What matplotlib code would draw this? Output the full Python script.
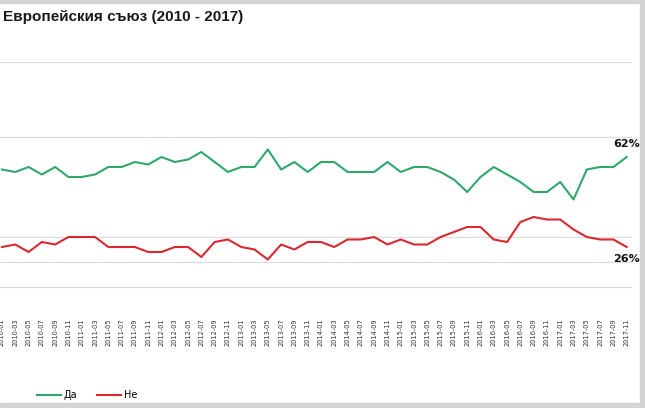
import matplotlib
matplotlib.use("Agg")
import matplotlib.pyplot as plt
from matplotlib.patches import Rectangle

# bi-monthly poll, 2010 - 2017
labels = [f"{y}-{m:02d}" for y in range(2010, 2018) for m in range(1, 13, 2)]

yes = [57, 56, 58, 55, 58, 54, 54, 55, 58, 58, 60, 59, 62, 60, 61, 64,
       60, 56, 58, 58, 65, 57, 60, 56, 60, 60, 56, 56, 56, 60, 56, 58,
       58, 56, 53, 48, 54, 58, 55, 52, 48, 48, 52, 45, 57, 58, 58, 62]
no = [26, 27, 24, 28, 27, 30, 30, 30, 26, 26, 26, 24, 24, 26, 26, 22,
      28, 29, 26, 25, 21, 27, 25, 28, 28, 26, 29, 29, 30, 27, 29, 27,
      27, 30, 32, 34, 34, 29, 28, 36, 38, 37, 37, 33, 30, 29, 29, 26]

grid_levels = [10, 20, 30, 70, 100]

green = "#2fa86b"
red = "#d9282f"

fig = plt.figure(figsize=(6.45, 4.08), dpi=100)
fig.patch.set_facecolor("white")

ax = fig.add_axes([0, 96 / 408, 632 / 645, 250 / 408])
x = list(range(len(labels)))
ax.plot(x, yes, color=green, lw=1.5, label="Да")
ax.plot(x, no, color=red, lw=1.5, label="Не")

ax.set_xlim(-0.15, 47.4)
ax.set_ylim(0, 100)
for g in grid_levels:
    ax.axhline(g, color="#dcdcdc", lw=0.9, zorder=0)
for s in ax.spines.values():
    s.set_visible(False)
ax.set_yticks([])
ax.set_xticks(x)
ax.set_xticklabels(labels, rotation=90, fontsize=4.8, color="#333333")
ax.tick_params(axis="x", length=0, pad=4.5)

ax.annotate(f"{yes[-1]}%", (x[-1], yes[-1]), xytext=(0, 6), textcoords="offset points",
            ha="center", va="bottom", fontsize=8, color="#111111", fontweight="semibold")
ax.annotate(f"{no[-1]}%", (x[-1], no[-1]), xytext=(0, -5), textcoords="offset points",
            ha="center", va="top", fontsize=8, color="#111111", fontweight="semibold")

fig.text(3 / 645, 1 - 17 / 408, "Европейския съюз (2010 - 2017)", fontsize=11,
         fontweight="bold", family="Liberation Sans", color="#1a1a1a", va="center")

fig.legend(loc="center left", bbox_to_anchor=(28 / 645, 1 - 395 / 408), ncol=2,
           frameon=False, fontsize=7, handlelength=2.5, columnspacing=2.0,
           handletextpad=0.3)

# light grey frame of the screenshot
fig.patches.append(Rectangle((0, 1 - 3 / 408), 1, 3 / 408, transform=fig.transFigure,
                             color="#d4d4d4", zorder=5))
fig.patches.append(Rectangle((0, 0), 1, 5 / 408, transform=fig.transFigure,
                             color="#d4d4d4", zorder=5))
fig.patches.append(Rectangle((1 - 5 / 645, 0), 5 / 645, 1, transform=fig.transFigure,
                             color="#d4d4d4", zorder=5))

fig.savefig("out.png", dpi=100)
